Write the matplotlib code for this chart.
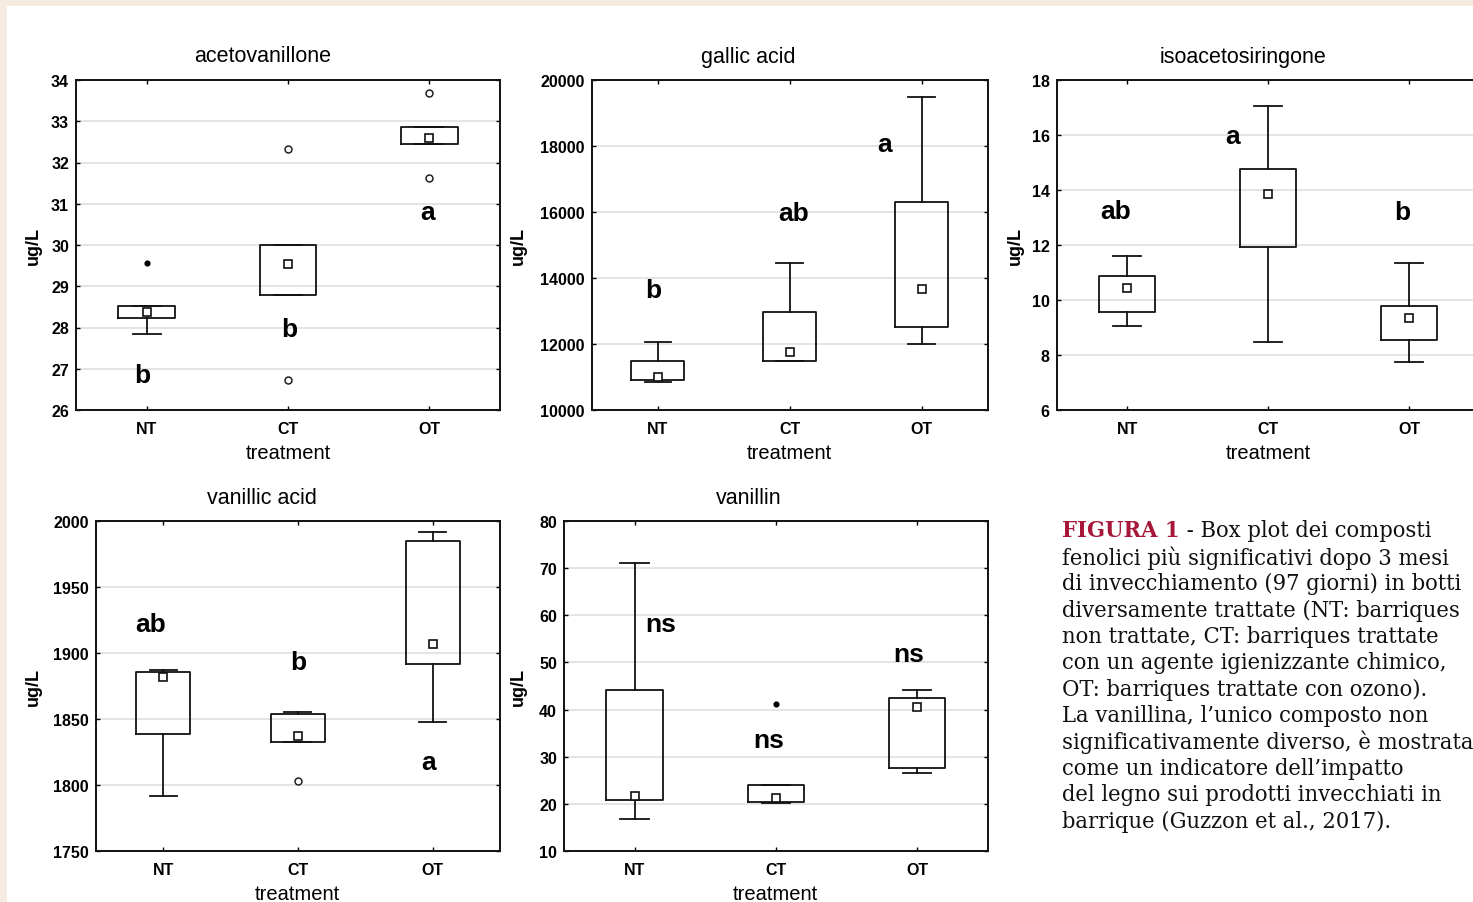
import matplotlib
matplotlib.use("Agg")
import matplotlib.pyplot as plt
from matplotlib.patches import Rectangle

plt.rcParams['font.family'] = ['Liberation Sans', 'DejaVu Sans']

# ---------------- data ----------------
categories = ["NT", "CT", "OT"]

titles = ["acetovanillone", "gallic acid", "isoacetosiringone", "vanillic acid", "vanillin"]

# whisker low, q1, median, q3, whisker high
aceto_stats = [(27.84, 28.23, 28.38, 28.52, 28.52),
               (28.79, 28.79, 29.54, 30.00, 30.00),
               (32.45, 32.45, 32.59, 32.87, 32.87)]
aceto_outliers = [[], [32.32, 26.73], [33.68, 31.62]]
aceto_extremes = [[29.56], [], []]
aceto_letters = [("b", 0.97, 26.85), ("b", 2.01, 27.96), ("a", 2.99, 30.80)]
aceto_ticks = [26, 27, 28, 29, 30, 31, 32, 33, 34]

gallic_stats = [(10840, 10909, 11010, 11495, 12052),
                (11480, 11495, 11768, 12961, 14446),
                (12000, 12506, 13667, 16312, 19494)]
gallic_outliers = [[], [], []]
gallic_extremes = [[], [], []]
gallic_letters = [("b", 0.97, 13636), ("ab", 2.03, 15980), ("a", 2.72, 18061)]
gallic_ticks = [10000, 12000, 14000, 16000, 18000, 20000]

iso_stats = [(9.07, 9.55, 10.43, 10.86, 11.59),
             (8.46, 11.92, 13.85, 14.76, 17.07),
             (7.73, 8.55, 9.35, 9.79, 11.35)]
iso_outliers = [[], [], []]
iso_extremes = [[], [], []]
iso_letters = [("ab", 0.92, 13.25), ("a", 1.75, 15.97), ("b", 2.95, 13.19)]
iso_ticks = [6, 8, 10, 12, 14, 16, 18]

vanillic_stats = [(1791.8, 1838.6, 1882.0, 1885.9, 1887.1),
                  (1832.7, 1832.7, 1837.3, 1853.7, 1855.0),
                  (1847.5, 1891.7, 1906.9, 1984.8, 1992.1)]
vanillic_outliers = [[], [1803.1], []]
vanillic_extremes = [[], [], []]
vanillic_letters = [("ab", 0.91, 1922), ("b", 2.00, 1893), ("a", 2.97, 1817)]
vanillic_ticks = [1750, 1800, 1850, 1900, 1950, 2000]

vanillin_stats = [(16.7, 20.8, 21.7, 44.2, 71.1),
                  (20.1, 20.4, 21.3, 24.0, 24.0),
                  (26.5, 27.6, 40.5, 42.45, 44.15)]
vanillin_outliers = [[], [], []]
vanillin_extremes = [[], [41.2], []]
vanillin_letters = [("ns", 1.185, 58.2), ("ns", 1.95, 33.6), ("ns", 2.94, 51.7)]
vanillin_ticks = [10, 20, 30, 40, 50, 60, 70, 80]

caption_lines = [
    " - Box plot dei composti",
    "fenolici più significativi dopo 3 mesi",
    "di invecchiamento (97 giorni) in botti",
    "diversamente trattate (NT: barriques",
    "non trattate, CT: barriques trattate",
    "con un agente igienizzante chimico,",
    "OT: barriques trattate con ozono).",
    "La vanillina, l\u2019unico composto non",
    "significativamente diverso, è mostrata",
    "come un indicatore dell\u2019impatto",
    "del legno sui prodotti invecchiati in",
    "barrique (Guzzon et al., 2017).",
]
caption_head = "FIGURA 1"

# ---------------- layout ----------------
W, H = 1473, 903
fig = plt.figure(figsize=(W / 100, H / 100), dpi=100)
fig.patch.set_facecolor("white")

# beige page border (top and left)
fig.patches.append(Rectangle((0, 1 - 7 / H), 1, 7 / H, transform=fig.transFigure,
                             facecolor="#f5ebe1", edgecolor="none", zorder=0))
fig.patches.append(Rectangle((0, 0), 7 / W, 1, transform=fig.transFigure,
                             facecolor="#f5ebe1", edgecolor="none", zorder=0))

# (left px, top px, width px, height px, title x frac, ylabel dist px)
panels = [
    (76.0, 81.0, 424.0, 330.0, 0.439, 43),
    (591.7, 81.0, 396.0, 330.0, 0.395, 73),
    (1056.7, 81.0, 423.0, 330.0, 0.440, 41),
    (95.7, 522.3, 404.3, 329.4, 0.410, 62),
    (564.0, 522.3, 423.7, 329.4, 0.437, 46),
]

datasets = [
    (aceto_stats, aceto_outliers, aceto_extremes, aceto_letters, aceto_ticks),
    (gallic_stats, gallic_outliers, gallic_extremes, gallic_letters, gallic_ticks),
    (iso_stats, iso_outliers, iso_extremes, iso_letters, iso_ticks),
    (vanillic_stats, vanillic_outliers, vanillic_extremes, vanillic_letters, vanillic_ticks),
    (vanillin_stats, vanillin_outliers, vanillin_extremes, vanillin_letters, vanillin_ticks),
]

positions = [1, 2, 3]
lw = 1.3

for (lpx, tpx, wpx, hpx, tx, yld), (stats, outl, extr, letters, ticks), title in zip(panels, datasets, titles):
    ax = fig.add_axes([lpx / W, 1 - (tpx + hpx) / H, wpx / W, hpx / H])
    bxp_stats = []
    for (wlo, q1, med, q3, whi), cat in zip(stats, categories):
        bxp_stats.append(dict(label=cat, whislo=wlo, q1=q1, med=med, q3=q3,
                              whishi=whi, mean=med, fliers=[]))
    ax.bxp(bxp_stats, positions=positions, widths=0.4, capwidths=0.2,
           showmeans=True, showfliers=False,
           boxprops=dict(color="#111111", linewidth=lw),
           whiskerprops=dict(color="#111111", linewidth=lw),
           capprops=dict(color="#111111", linewidth=lw),
           medianprops=dict(linewidth=0),
           meanprops=dict(marker="s", markerfacecolor="white", markeredgecolor="#111111",
                          markersize=5.5, markeredgewidth=1.2))
    for p, vals in zip(positions, outl):
        if vals:
            ax.plot([p] * len(vals), vals, linestyle="none", marker="o",
                    markerfacecolor="white", markeredgecolor="#222222",
                    markersize=5, markeredgewidth=1.1)
    for p, vals in zip(positions, extr):
        if vals:
            ax.plot([p] * len(vals), vals, linestyle="none", marker="o",
                    markerfacecolor="black", markeredgecolor="black", markersize=3.4)
    for txt, xv, yv in letters:
        ax.text(xv, yv, txt, ha="center", va="center", fontsize=19,
                fontweight="bold", color="black")

    ax.set_xlim(0.5, 3.5)
    ax.set_ylim(ticks[0], ticks[-1])
    ax.set_yticks(ticks)
    ax.set_yticklabels([str(t) for t in ticks])
    ax.set_xticks(positions)
    ax.set_xticklabels(categories)
    ax.yaxis.grid(True, color="#e2e2e2", linewidth=1.3)
    ax.set_axisbelow(True)
    for s in ax.spines.values():
        s.set_linewidth(1.4)
        s.set_color("#111111")
    ax.tick_params(axis="both", which="major", direction="in", length=3, width=1.0,
                   top=True, right=True, labelsize=11.5, pad=5)
    ax.tick_params(axis="x", pad=8)
    for lab in ax.get_xticklabels() + ax.get_yticklabels():
        lab.set_fontweight("bold")

    ax.set_xlabel("treatment", fontsize=14.5)
    ax.xaxis.set_label_coords(0.5, -43 / hpx)
    ax.xaxis.label.set_va("center")
    ax.set_ylabel("ug/L", fontsize=13, fontweight="bold")
    ax.yaxis.set_label_coords(-yld / wpx, 0.5)
    ax.yaxis.label.set_va("center")

    ax.text(tx, 1 + 24 / hpx, title, transform=ax.transAxes, ha="center",
            va="center", fontsize=15.5)

# ---------------- caption ----------------
cap_font = dict(family="DejaVu Serif", fontstretch="condensed", fontsize=16.9)
x0 = 1062 / W
y_first = 531.5
spacing = 26.4
head = fig.text(x0, 1 - y_first / H, caption_head, ha="left", va="center",
                color="#a6173a", fontweight="bold", **cap_font)
fig.canvas.draw()
bb = head.get_window_extent(renderer=fig.canvas.get_renderer())
fig.text(bb.x1 / W, 1 - y_first / H, caption_lines[0], ha="left", va="center",
         color="#111111", **cap_font)
for i, line in enumerate(caption_lines[1:], start=1):
    fig.text(x0, 1 - (y_first + i * spacing) / H, line, ha="left", va="center",
             color="#111111", **cap_font)

fig.savefig("out.png", dpi=100)
